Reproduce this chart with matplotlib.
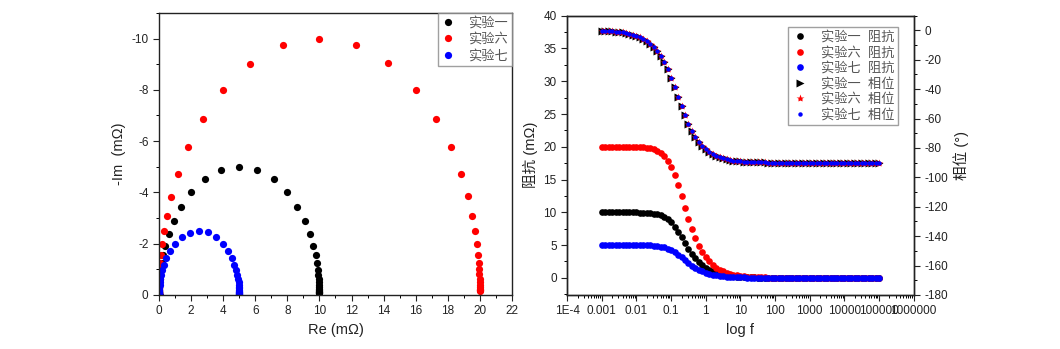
import matplotlib
matplotlib.use('Agg')
import matplotlib.pyplot as plt
from matplotlib.ticker import MultipleLocator, FixedLocator, FixedFormatter, LogLocator, NullFormatter
import numpy as np

plt.rcParams['font.family'] = ['Liberation Sans', 'Noto Sans CJK SC']
plt.rcParams['axes.unicode_minus'] = False

# frequency points (10 per decade, 0.001 .. 100000)
freq = [1e-3, 1.26e-3, 1.58e-3, 2.0e-3, 2.51e-3, 3.16e-3, 3.98e-3, 5.01e-3, 6.31e-3, 7.94e-3,
        1e-2, 1.26e-2, 1.58e-2, 2.0e-2, 2.51e-2, 3.16e-2, 3.98e-2, 5.01e-2, 6.31e-2, 7.94e-2,
        1e-1, 1.26e-1, 1.58e-1, 2.0e-1, 2.51e-1, 3.16e-1, 3.98e-1, 5.01e-1, 6.31e-1, 7.94e-1,
        1.0, 1.26, 1.58, 2.0, 2.51, 3.16, 3.98, 5.01, 6.31, 7.94,
        10, 12.6, 15.8, 20.0, 25.1, 31.6, 39.8, 50.1, 63.1, 79.4,
        100, 126, 158, 200, 251, 316, 398, 501, 631, 794,
        1000, 1260, 1580, 2000, 2510, 3160, 3980, 5010, 6310, 7940,
        1e4, 1.26e4, 1.58e4, 2.0e4, 2.51e4, 3.16e4, 3.98e4, 5.01e4, 6.31e4, 7.94e4,
        1e5]

# impedance magnitude (mOhm)
mag_1 = [10.0, 10.0, 10.0, 10.0, 10.0, 10.0, 10.0, 9.99, 9.99, 9.99,
         9.98, 9.97, 9.95, 9.92, 9.88, 9.81, 9.70, 9.54, 9.29, 8.94,
         8.46, 7.83, 7.07, 6.22, 5.34, 4.48, 3.70, 3.02, 2.44, 1.96,
         1.57, 1.25, 0.99, 0.79, 0.63, 0.50, 0.40, 0.32, 0.25, 0.20,
         0.16, 0.13, 0.10, 0.08, 0.06, 0.05, 0.04, 0.03, 0.03, 0.02,
         0.02, 0.01, 0.01] + [0.0] * 28
mag_6 = [20.0, 20.0, 20.0, 20.0, 20.0, 20.0, 20.0, 19.99, 19.98, 19.97,
         19.96, 19.94, 19.90, 19.84, 19.75, 19.61, 19.40, 19.07, 18.58, 17.88,
         16.91, 15.66, 14.14, 12.44, 10.67, 8.96, 7.40, 6.03, 4.87, 3.91,
         3.13, 2.50, 1.99, 1.58, 1.26, 1.00, 0.80, 0.63, 0.50, 0.40,
         0.32, 0.25, 0.20, 0.16, 0.13, 0.10, 0.08, 0.06, 0.05, 0.04,
         0.03, 0.03, 0.02, 0.02, 0.01, 0.01, 0.01] + [0.0] * 24
mag_7 = [5.0, 5.0, 5.0, 5.0, 5.0, 5.0, 5.0, 5.0, 5.0, 4.99,
         4.99, 4.98, 4.98, 4.96, 4.94, 4.90, 4.85, 4.77, 4.65, 4.47,
         4.23, 3.92, 3.54, 3.11, 2.67, 2.24, 1.85, 1.51, 1.22, 0.98,
         0.78, 0.62, 0.50, 0.40, 0.32, 0.25, 0.20, 0.16, 0.13, 0.10,
         0.08, 0.06, 0.05, 0.04, 0.03, 0.03, 0.02, 0.02, 0.01, 0.01] + [0.0] * 31

# phase (degrees), identical for the three runs
phase = [-0.4, -0.5, -0.6, -0.7, -0.9, -1.1, -1.4, -1.8, -2.3, -2.9,
         -3.6, -4.5, -5.7, -7.2, -9.0, -11.3, -14.1, -17.6, -21.7, -26.6,
         -32.3, -38.5, -45.0, -51.5, -57.7, -63.4, -68.3, -72.5, -75.9, -78.7,
         -81.0, -82.8, -84.3, -85.5, -86.4, -87.1, -87.7, -88.2, -88.6, -88.9,
         -89.1, -89.3, -89.4, -89.5, -89.6, -89.7, -89.8, -89.8, -89.9, -89.9,
         -89.9, -89.9, -89.9] + [-90.0] * 28

labels = ['实验一', '实验六', '实验七']
colors = ['#000000', '#ff0000', '#0000ff']
mags = [mag_1, mag_6, mag_7]

fig = plt.figure(figsize=(10.6, 3.49), dpi=100)
ax1 = fig.add_axes([0.150, 0.155, 0.333, 0.808])
ax2 = fig.add_axes([0.535, 0.155, 0.327, 0.800])
ax3 = ax2.twinx()

tc = '#222222'
ph = np.radians(phase)

# Nyquist
for m, c, lab in zip(mags, colors, labels):
    m = np.array(m)
    ax1.plot(m * np.cos(ph), m * np.sin(ph), 'o', color=c, ms=5.2, mec='none', label=lab)
ax1.set_xlim(0, 22)
ax1.set_ylim(0, -11)
ax1.xaxis.set_major_locator(MultipleLocator(2))
ax1.xaxis.set_minor_locator(MultipleLocator(1))
ax1.yaxis.set_major_locator(MultipleLocator(2))
ax1.yaxis.set_minor_locator(MultipleLocator(1))
ax1.set_xlabel('Re (mΩ)', fontsize=10.5, color=tc)
ax1.set_ylabel('-Im  (mΩ)', fontsize=10.5, color=tc)
leg1 = ax1.legend(loc='upper right', bbox_to_anchor=(1, 1), borderaxespad=0, fontsize=9.5,
                  frameon=True, fancybox=False, edgecolor='#888888', labelspacing=0.25,
                  handletextpad=1.0, borderpad=0.3, handlelength=1.0)
for t in leg1.get_texts():
    t.set_color('#555555')

# Bode
for m, c, lab in zip(mags, colors, labels):
    ax2.plot(freq, m, 'o', color=c, ms=4.8, mec='none', label=lab + '  阻抗')
ax3.plot(freq, phase, '>', color='#000000', ms=5.5, mec='none', label='实验一  相位')
ax3.plot(freq, phase, '*', color='#ff0000', ms=6, mec='none', label='实验六  相位')
ax3.plot(freq, phase, 'o', color='#0000ff', ms=3.2, mec='none', label='实验七  相位')

ax2.set_xscale('log')
ax2.set_xlim(1e-4, 1e6)
ax2.set_ylim(-2.6, 40)
ax3.set_ylim(-180, 10)
xt = [1e-4, 1e-3, 1e-2, 1e-1, 1, 10, 100, 1000, 1e4, 1e5, 1e6]
xl = ['1E-4', '0.001', '0.01', '0.1', '1', '10', '100', '1000', '10000', '100000', '1000000']
ax2.xaxis.set_major_locator(FixedLocator(xt))
ax2.xaxis.set_major_formatter(FixedFormatter(xl))
ax2.xaxis.set_minor_locator(LogLocator(base=10, subs=np.arange(2, 10), numticks=20))
ax2.xaxis.set_minor_formatter(NullFormatter())
ax2.yaxis.set_major_locator(MultipleLocator(5))
ax2.yaxis.set_minor_locator(MultipleLocator(2.5))
ax3.yaxis.set_major_locator(MultipleLocator(20))
ax3.yaxis.set_minor_locator(MultipleLocator(10))
ax2.set_xlabel('log f', fontsize=10.5, color=tc)
ax2.set_ylabel('阻抗 (mΩ)', fontsize=10.5, color=tc)
ax3.set_ylabel('相位 (°)', fontsize=10.5, color=tc)

h2, l2 = ax2.get_legend_handles_labels()
h3, l3 = ax3.get_legend_handles_labels()
leg2 = ax3.legend(h2 + h3, l2 + l3, loc='upper right', bbox_to_anchor=(0.955, 0.96),
                  borderaxespad=0, fontsize=9.5, frameon=True, fancybox=False,
                  edgecolor='#888888', labelspacing=0.2, handletextpad=1.0,
                  borderpad=0.3, handlelength=1.2)
for t in leg2.get_texts():
    t.set_color('#555555')

for ax in (ax1, ax2, ax3):
    ax.tick_params(which='major', direction='out', length=4, width=0.8, labelsize=8.5,
                   colors='#222222')
    ax.tick_params(which='minor', direction='out', length=2, width=0.7)
    for s in ax.spines.values():
        s.set_linewidth(1.0)
        s.set_color('#222222')

fig.savefig('out.png', dpi=100)
